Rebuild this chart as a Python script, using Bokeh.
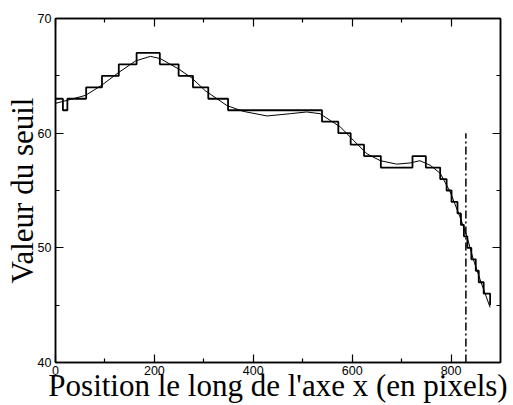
from bokeh.plotting import figure
from bokeh.models import Range1d, FixedTicker, LinearAxis, CustomLabelingPolicy
from bokeh.embed import file_html
from bokeh.resources import INLINE

# Step function (thresholds per block): edges and values
step_edges = [0, 15, 24, 62, 94, 128, 164, 211, 249, 278, 309, 349, 539, 572, 597,
              624, 658, 722, 749, 778, 791, 801, 813, 820, 826, 833, 841, 850, 856, 866, 879]
step_values = [63, 62, 63, 64, 65, 66, 67, 66, 65, 64, 63, 62, 61, 60, 59,
               58, 57, 58, 57, 56, 55, 54, 53, 52, 51, 50, 49, 48, 47, 46]
step_end_value = 45

# Smooth threshold curve
curve_x = [0, 27, 61, 94, 128, 162, 192, 212, 249, 276, 303, 347, 380, 428, 475, 508,
           535, 556, 576, 602, 630, 657, 690, 717, 737, 758, 778, 798, 818, 832, 845, 859, 879]
curve_y = [62.6, 62.9, 63.3, 64.2, 65.3, 66.3, 66.7, 66.5, 65.6, 64.8, 63.7, 62.4, 61.9,
           61.5, 61.7, 61.85, 61.7, 61.1, 60.55, 59.4, 58.2, 57.6, 57.3, 57.4, 57.6, 57.2,
           56.5, 54.9, 52.7, 51.0, 49.0, 47.2, 44.8]

# Vertical dash-dot marker
marker_x = 830
marker_y = [40, 60]

x_major = [0, 200, 400, 600, 800]
x_minor = [100, 300, 500, 700]
y_major = [40, 50, 60, 70]
y_minor = [45, 55, 65]

x_title = "Position le long de l'axe x (en pixels)"
y_title = "Valeur du seuil"

SERIF = "Liberation Serif, Times New Roman, DejaVu Serif, serif"

p = figure(width=510, height=405, x_range=Range1d(0, 900), y_range=Range1d(40, 70),
           output_backend="svg", toolbar_location=None,
           min_border_left=55, min_border_right=10, min_border_top=18, min_border_bottom=42)
p.grid.visible = False
p.outline_line_color = "black"
p.outline_line_width = 1.5
p.background_fill_color = "white"
p.border_fill_color = "white"

def style_axis(ax, ticks, minor, show_labels, standoff):
    ax.ticker = FixedTicker(ticks=ticks, minor_ticks=minor)
    ax.major_tick_in = 8
    ax.major_tick_out = 0
    ax.minor_tick_in = 4
    ax.minor_tick_out = 0
    ax.axis_line_width = 1.5
    ax.axis_line_color = "black"
    ax.major_tick_line_color = "black"
    ax.minor_tick_line_color = "black"
    ax.major_tick_line_width = 1.2
    ax.minor_tick_line_width = 1.2
    ax.major_label_text_font = "Liberation Sans"
    ax.major_label_text_color = "black"
    if show_labels:
        ax.major_label_text_font_size = "12.5px"
        ax.major_label_standoff = standoff
    else:
        ax.major_label_text_font_size = "0px"
        ax.major_label_standoff = 0
        ax.major_label_policy = CustomLabelingPolicy(code="return new Set()")

style_axis(p.xaxis[0], x_major, x_minor, True, 3)
style_axis(p.yaxis[0], y_major, y_minor, True, 4)

for ax, title, st in ((p.xaxis[0], x_title, -10), (p.yaxis[0], y_title, -5)):
    ax.axis_label = title
    ax.axis_label_text_font = SERIF
    ax.axis_label_text_font_size = "31px"
    ax.axis_label_text_font_style = "normal"
    ax.axis_label_text_color = "black"
    ax.axis_label_standoff = st

top_ax = LinearAxis()
style_axis(top_ax, x_major, x_minor, False, 0)
p.add_layout(top_ax, "above")
right_ax = LinearAxis()
style_axis(right_ax, y_major, y_minor, False, 0)
p.add_layout(right_ax, "right")

p.step(x=step_edges, y=step_values + [step_end_value], mode="after",
       line_color="black", line_width=1.8)
p.line(x=curve_x, y=curve_y, line_color="black", line_width=1.0)
p.line(x=[marker_x, marker_x], y=marker_y, line_color="black", line_width=1.5,
       line_dash="8 3 2 3")

open("out.html", "w").write(file_html(p, INLINE))
